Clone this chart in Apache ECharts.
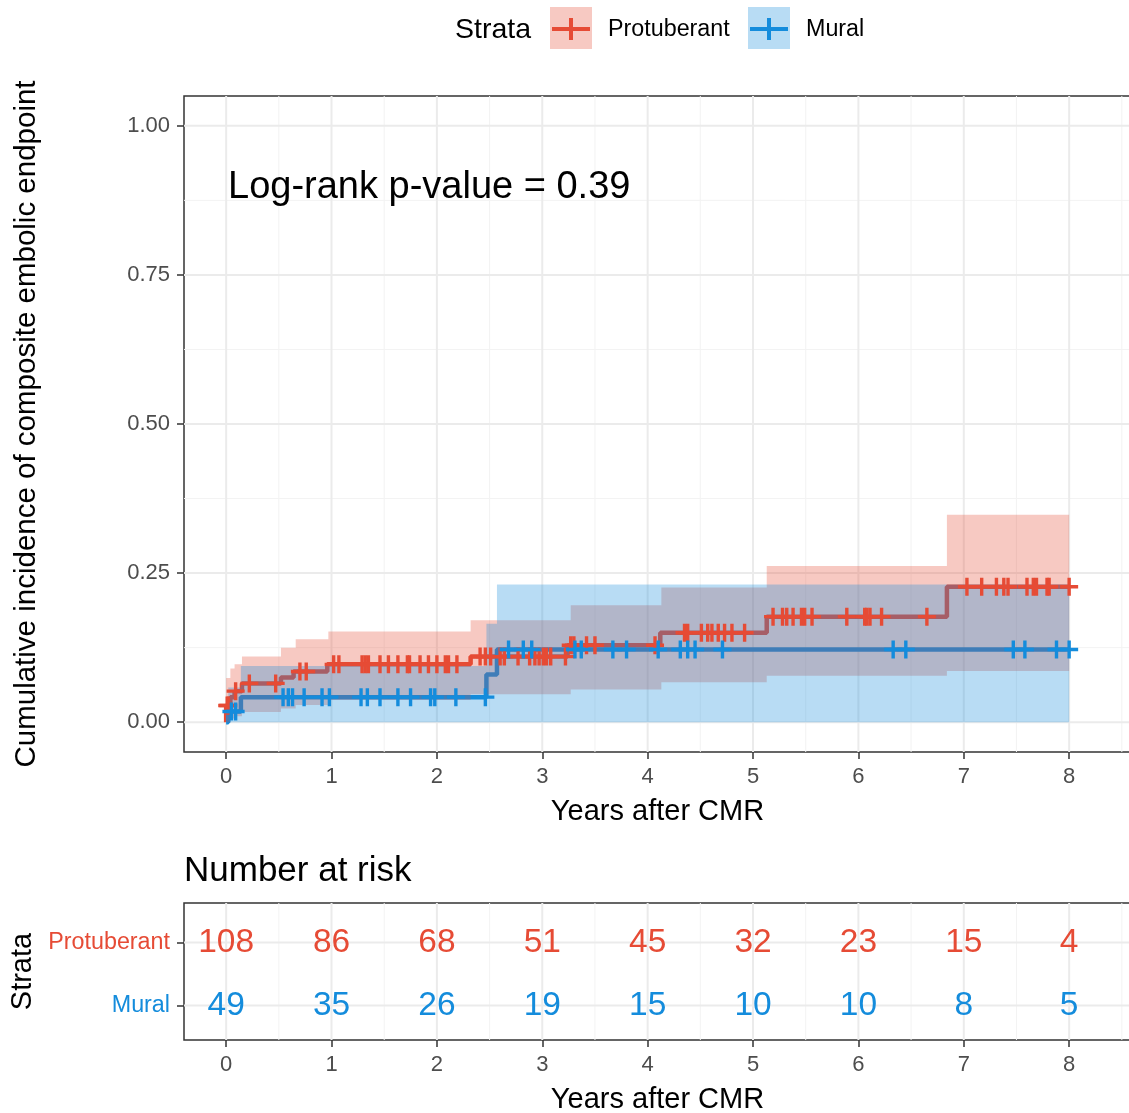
<!DOCTYPE html>
<html><head><meta charset="utf-8">
<script src="https://cdn.jsdelivr.net/npm/echarts@6/dist/echarts.min.js"></script>
<style>html,body{margin:0;padding:0;background:#fff}#c{width:1129px;height:1113px}</style>
</head><body><div id="c"></div><script>
// ---------- data ----------
const X_MIN = -0.4, X_MAX = 8.587;
const X_TICKS = [0, 1, 2, 3, 4, 5, 6, 7, 8];
const X_MINOR = [0.5, 1.5, 2.5, 3.5, 4.5, 5.5, 6.5, 7.5, 8.5];
const Y_TICKS = [0, 0.25, 0.5, 0.75, 1];
const Y_MINOR = [0.125, 0.375, 0.625, 0.875];
const strata = ['Protuberant', 'Mural'];

// cumulative incidence step curves (value holds from time[i] to time[i+1])
const protTime = [0, 0, 0.04, 0.08, 0.15, 0.52, 0.64, 0.96, 2.32, 3.24, 4.12, 5.13, 6.84, 8.0];
const protCum  = [0, 0.028, 0.042, 0.052, 0.065, 0.075, 0.085, 0.097, 0.110, 0.129, 0.150, 0.177, 0.227, 0.227];
const muralTime = [0, 0.02, 0.14, 2.47, 2.57, 8.0];
const muralCum  = [0, 0.018, 0.042, 0.080, 0.122, 0.122];

// confidence bands (step)
const protCiTime  = [0, 0.04, 0.08, 0.15, 0.52, 0.66, 0.97, 2.32, 3.27, 4.13, 5.13, 6.84, 8.0];
const protCiLower = [0.000, 0.006, 0.010, 0.017, 0.023, 0.029, 0.037, 0.047, 0.055, 0.067, 0.078, 0.086, 0.086];
const protCiUpper = [0.074, 0.090, 0.097, 0.110, 0.125, 0.139, 0.152, 0.171, 0.196, 0.226, 0.262, 0.348, 0.348];
const muralCiTime  = [0, 0.02, 0.14, 2.47, 2.57, 8.0];
const muralCiLower = [0, 0, 0, 0, 0, 0];
const muralCiUpper = [0, 0.058, 0.094, 0.165, 0.231, 0.231];

// censoring marks [time, value]
const protCensor = [
  [0.01,0.028],[0.02,0.028],[0.09,0.052],
  [0.22,0.065],[0.47,0.065],
  [0.70,0.085],[0.76,0.085],
  [1.02,0.097],[1.07,0.097],[1.29,0.097],[1.32,0.097],[1.35,0.097],[1.46,0.097],[1.54,0.097],[1.63,0.097],
  [1.72,0.097],[1.74,0.097],[1.84,0.097],[1.92,0.097],[2.00,0.097],[2.08,0.097],[2.11,0.097],[2.19,0.097],
  [2.41,0.110],[2.46,0.110],[2.51,0.110],[2.60,0.110],[2.64,0.110],[2.77,0.110],[2.88,0.110],[2.93,0.110],
  [2.97,0.110],[3.01,0.110],[3.04,0.110],[3.08,0.110],[3.22,0.110],
  [3.27,0.129],[3.30,0.129],[3.42,0.129],[3.50,0.129],[4.07,0.129],
  [4.35,0.150],[4.38,0.150],[4.51,0.150],[4.57,0.150],[4.61,0.150],[4.67,0.150],[4.73,0.150],[4.80,0.150],[4.92,0.150],
  [5.19,0.177],[5.28,0.177],[5.32,0.177],[5.38,0.177],[5.46,0.177],[5.49,0.177],[5.56,0.177],[5.89,0.177],
  [6.06,0.177],[6.08,0.177],[6.11,0.177],[6.22,0.177],[6.65,0.177],
  [7.03,0.227],[7.17,0.227],[7.31,0.227],[7.38,0.227],[7.42,0.227],[7.60,0.227],[7.66,0.227],[7.69,0.227],
  [7.79,0.227],[7.81,0.227],[8.0,0.227]
];
const muralCensor = [
  [0.05,0.018],[0.09,0.018],
  [0.54,0.042],[0.59,0.042],[0.63,0.042],[0.74,0.042],[0.91,0.042],[0.98,0.042],[1.28,0.042],[1.34,0.042],
  [1.46,0.042],[1.63,0.042],[1.75,0.042],[1.94,0.042],[1.98,0.042],[2.18,0.042],[2.46,0.042],
  [2.68,0.122],[2.82,0.122],[2.90,0.122],[3.31,0.122],[3.37,0.122],[3.67,0.122],[3.80,0.122],[4.10,0.122],
  [4.31,0.122],[4.38,0.122],[4.45,0.122],[4.71,0.122],[6.33,0.122],[6.45,0.122],[7.47,0.122],[7.58,0.122],
  [7.88,0.122],[8.0,0.122]
];

// number at risk
const riskTimes = [0, 1, 2, 3, 4, 5, 6, 7, 8];
const protRisk  = [108, 86, 68, 51, 45, 32, 23, 15, 4];
const muralRisk = [49, 35, 26, 19, 15, 10, 10, 8, 5];
const pValueText = 'Log-rank p-value = 0.39';

// ---------- styling ----------
const FONT = '"Liberation Sans", Arial, Helvetica, sans-serif';
const RED = '#E64B35', BLUE = '#148CDC';
const RED_FILL = 'rgba(230,75,53,0.3)', BLUE_FILL = 'rgba(20,140,220,0.3)';
const PLUS = 'path://M7.3,0H10.7V7.3H18V10.7H10.7V18H7.3V10.7H0V7.3H7.3Z';

function vLines(gi, values, color, width) {
  return { type: 'custom', xAxisIndex: gi, yAxisIndex: gi, silent: true, z: 0,
    data: values.map(v => [v, 1]),
    renderItem: (params, api) => {
      const cs = params.coordSys; const x = api.coord([api.value(0), 1])[0];
      return { type: 'line', shape: { x1: x, y1: cs.y, x2: x, y2: cs.y + cs.height }, style: { stroke: color, lineWidth: width } };
    } };
}
function hLines(gi, values, color, width) {
  return { type: 'custom', xAxisIndex: gi, yAxisIndex: gi, silent: true, z: 0,
    data: values.map(v => [0, v]),
    renderItem: (params, api) => {
      const cs = params.coordSys; const y = api.coord([0, api.value(1)])[1];
      return { type: 'line', shape: { x1: cs.x, y1: y, x2: cs.x + cs.width, y2: y }, style: { stroke: color, lineWidth: width } };
    } };
}
function ribbon(ts, lo, hi, fill) {
  return { type: 'custom', xAxisIndex: 0, yAxisIndex: 0, silent: true, z: 3,
    data: [[0, 0]],
    renderItem: (params, api) => {
      const pts = [];
      for (let i = 0; i < ts.length - 1; i++) { pts.push(api.coord([ts[i], hi[i]])); pts.push(api.coord([ts[i + 1], hi[i]])); }
      for (let i = ts.length - 2; i >= 0; i--) { pts.push(api.coord([ts[i + 1], lo[i]])); pts.push(api.coord([ts[i], lo[i]])); }
      return { type: 'polygon', shape: { points: pts }, style: { fill: fill } };
    } };
}
function stepLine(ts, vs, color) {
  return { type: 'line', xAxisIndex: 0, yAxisIndex: 0, step: 'end', showSymbol: false, silent: true, z: 2,
    data: ts.map((t, i) => [t, vs[i]]), lineStyle: { color: color, width: 4.5 }, itemStyle: { color: color } };
}
function censor(pts, color, z) {
  return { type: 'scatter', xAxisIndex: 0, yAxisIndex: 0, symbol: PLUS, symbolSize: [18, 18], silent: true, z: z,
    data: pts, itemStyle: { color: color, opacity: 1 } };
}
function riskText(counts, row, color) {
  return { type: 'custom', xAxisIndex: 1, yAxisIndex: 1, silent: true, z: 5,
    data: riskTimes.map((t, i) => [t, row, counts[i]]),
    renderItem: (params, api) => {
      const p = api.coord([api.value(0), api.value(1)]);
      return { type: 'text', x: p[0], y: p[1], style: { text: String(api.value(2)), fill: color, fontSize: 33.5, fontFamily: FONT, align: 'center', verticalAlign: 'middle' } };
    } };
}
function xAxisCfg(gi) {
  return { type: 'value', gridIndex: gi, min: X_MIN, max: X_MAX,
    axisLine: { show: false, onZero: false },
    axisTick: { show: true, customValues: X_TICKS, length: 7, lineStyle: { color: '#333', width: 1.5 } },
    axisLabel: { show: true, customValues: X_TICKS, color: '#4D4D4D', fontSize: 22, fontFamily: FONT, margin: 14 },
    splitLine: { show: false }, minorSplitLine: { show: false },
    name: 'Years after CMR', nameLocation: 'middle', nameGap: 45,
    nameTextStyle: { color: '#000', fontSize: 29, fontFamily: FONT } };
}

const option = {
  animation: false,
  backgroundColor: '#fff',
  grid: [
    { left: 184, right: -2, top: 96, bottom: 361, show: true, borderColor: '#333', borderWidth: 1.5, backgroundColor: 'transparent', containLabel: false, outerBoundsMode: 'none' },
    { left: 184, right: -2, top: 903, bottom: 73, show: true, borderColor: '#333', borderWidth: 1.5, backgroundColor: 'transparent', containLabel: false, outerBoundsMode: 'none' }
  ],
  xAxis: [xAxisCfg(0), xAxisCfg(1)],
  yAxis: [
    { type: 'value', gridIndex: 0, min: -0.05, max: 1.05,
      axisLine: { show: false, onZero: false },
      axisTick: { show: true, customValues: Y_TICKS, length: 7, lineStyle: { color: '#333', width: 1.5 } },
      axisLabel: { show: true, customValues: Y_TICKS, formatter: v => Number(v).toFixed(2), color: '#4D4D4D', fontSize: 22, fontFamily: FONT, margin: 14 },
      splitLine: { show: false },
      name: 'Cumulative incidence of composite embolic endpoint', nameLocation: 'middle', nameGap: 142,
      nameTextStyle: { color: '#000', fontSize: 29.5, fontFamily: FONT } },
    { type: 'value', gridIndex: 1, min: 0.45, max: 2.63,
      axisLine: { show: false, onZero: false },
      axisTick: { show: true, customValues: [1, 2], length: 7, lineStyle: { color: '#333', width: 1.5 } },
      axisLabel: { show: true, customValues: [1, 2], margin: 14,
        formatter: v => (Number(v) === 2 ? '{p|' + strata[0] + '}' : '{m|' + strata[1] + '}'),
        rich: { p: { color: RED, fontSize: 23.3, fontFamily: FONT }, m: { color: BLUE, fontSize: 23.3, fontFamily: FONT } } },
      splitLine: { show: false },
      name: 'Strata', nameLocation: 'middle', nameGap: 142,
      nameTextStyle: { color: '#000', fontSize: 29, fontFamily: FONT } }
  ],
  series: [
    vLines(0, X_MINOR, '#F3F3F3', 1), hLines(0, Y_MINOR, '#F3F3F3', 1),
    vLines(0, X_TICKS, '#EBEBEB', 2), hLines(0, Y_TICKS, '#EBEBEB', 2),
    vLines(1, X_MINOR, '#F3F3F3', 1), vLines(1, X_TICKS, '#EBEBEB', 2), hLines(1, [1, 2], '#EBEBEB', 2),
    stepLine(protTime, protCum, RED),
    stepLine(muralTime, muralCum, BLUE),
    ribbon(protCiTime, protCiLower, protCiUpper, RED_FILL),
    ribbon(muralCiTime, muralCiLower, muralCiUpper, BLUE_FILL),
    censor(protCensor, RED, 4),
    censor(muralCensor, BLUE, 5),
    riskText(protRisk, 2, RED),
    riskText(muralRisk, 1, BLUE)
  ],
  graphic: [
    { type: 'text', z: 100, x: 228, y: 188, style: { text: pValueText, fill: '#000', fontSize: 38, fontFamily: FONT, align: 'left', verticalAlign: 'middle' } },
    { type: 'text', z: 100, x: 184, y: 871, style: { text: 'Number at risk', fill: '#000', fontSize: 35, fontFamily: FONT, align: 'left', verticalAlign: 'middle' } },
    { type: 'text', z: 100, x: 455, y: 30, style: { text: 'Strata', fill: '#000', fontSize: 28.5, fontFamily: FONT, align: 'left', verticalAlign: 'middle' } },
    { type: 'rect', z: 100, shape: { x: 550, y: 7, width: 42, height: 42 }, style: { fill: RED_FILL } },
    { type: 'rect', z: 100, shape: { x: 552, y: 27, width: 38, height: 4 }, style: { fill: RED } },
    { type: 'rect', z: 100, shape: { x: 569, y: 18, width: 4, height: 22 }, style: { fill: RED } },
    { type: 'text', z: 100, x: 608, y: 30, style: { text: strata[0], fill: '#000', fontSize: 23.3, fontFamily: FONT, align: 'left', verticalAlign: 'middle' } },
    { type: 'rect', z: 100, shape: { x: 748, y: 7, width: 42, height: 42 }, style: { fill: BLUE_FILL } },
    { type: 'rect', z: 100, shape: { x: 750, y: 27, width: 38, height: 4 }, style: { fill: BLUE } },
    { type: 'rect', z: 100, shape: { x: 767, y: 18, width: 4, height: 22 }, style: { fill: BLUE } },
    { type: 'text', z: 100, x: 806, y: 30, style: { text: strata[1], fill: '#000', fontSize: 23.3, fontFamily: FONT, align: 'left', verticalAlign: 'middle' } }
  ]
};
const chart = echarts.init(document.getElementById('c'), null, { renderer: 'canvas' });
chart.setOption(option);
</script></body></html>
